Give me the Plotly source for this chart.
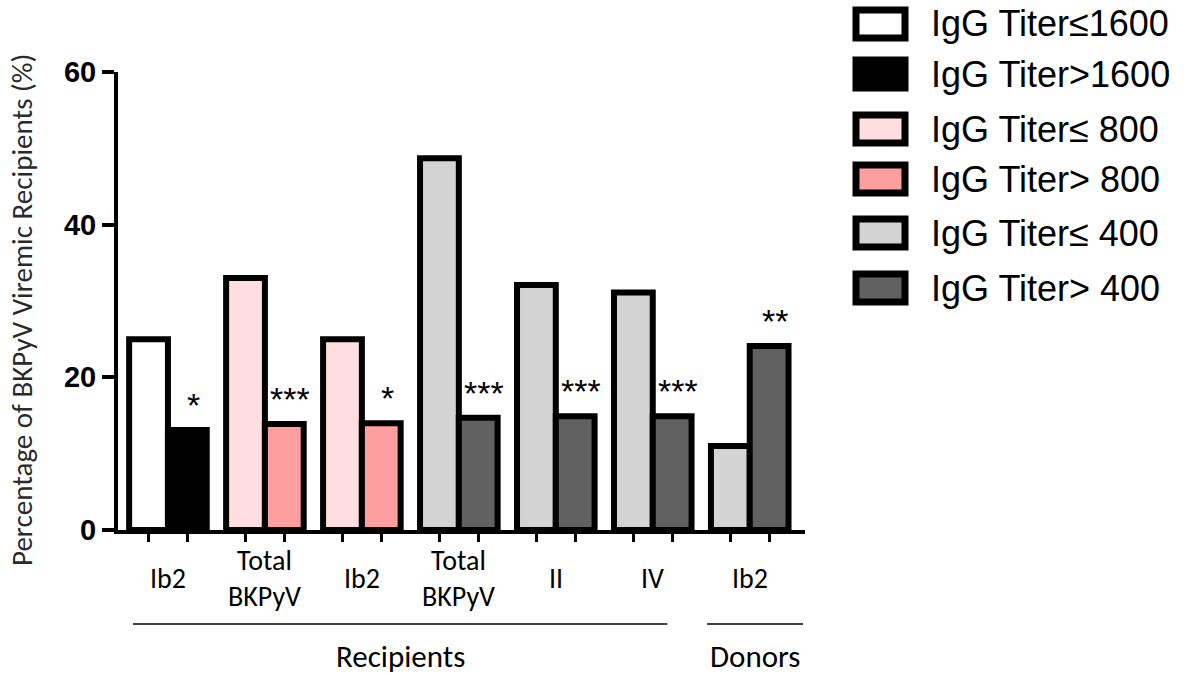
import plotly.graph_objects as go

# ---------------- data ----------------
group_labels = ["Ib2", "Total<br>BKPyV", "Ib2", "Total<br>BKPyV", "II", "IV", "Ib2"]
low_titer_values = [25.0, 33.0, 25.0, 48.7, 32.1, 31.1, 11.0]
high_titer_values = [13.1, 13.9, 14.0, 14.7, 14.9, 14.9, 24.1]
significance = ["*", "***", "*", "***", "***", "***", "**"]
group_threshold = [0, 1, 1, 2, 2, 2, 2]  # 0: 1600, 1: 800, 2: 400
series_names = ["IgG Titer≤1600", "IgG Titer>1600",
                "IgG Titer≤ 800", "IgG Titer> 800",
                "IgG Titer≤ 400", "IgG Titer> 400"]
series_colors = ["#FFFFFF", "#000000", "#FFDEE1", "#FF9E9E", "#D3D3D3", "#616161"]
section_names = ["Recipients", "Donors"]
section_groups = [[0, 1, 2, 3, 4, 5], [6]]
y_ticks = [0, 20, 40, 60]
y_title = "Percentage of BKPyV Viremic Recipients (%)"

# ---------------- layout constants ----------------
W = 0.40
FIG_W, FIG_H = 1196, 675
L, R, T, B = 118, 391, 72, 145
PW, PH = FIG_W - L - R, FIG_H - T - B
BORDER = 6
LABEL_FONT = "Carlito, Liberation Sans Narrow, Open Sans, sans-serif"
ARIAL = "Liberation Sans, Arial, sans-serif"


def px_x(p):
    return (p - L) / PW


def px_y(p):
    return (FIG_H - B - p) / PH


fig = go.Figure()
n = len(group_labels)
for t in range(3):
    idx = [i for i in range(n) if group_threshold[i] == t]
    fig.add_trace(go.Bar(
        x=idx, y=[low_titer_values[i] for i in idx], name=series_names[2 * t],
        offset=-W, width=W, marker=dict(color=series_colors[2 * t],
                                        line=dict(color="black", width=BORDER)),
        showlegend=False, hoverinfo="y"))
    fig.add_trace(go.Bar(
        x=idx, y=[high_titer_values[i] for i in idx], name=series_names[2 * t + 1],
        offset=0, width=W, marker=dict(color=series_colors[2 * t + 1],
                                       line=dict(color="black", width=BORDER)),
        showlegend=False, hoverinfo="y"))

# significance stars
for i in range(n):
    fig.add_annotation(x=i + W / 2 + 0.06, y=high_titer_values[i], text=significance[i],
                       showarrow=False, yanchor="bottom", yshift=4,
                       font=dict(family=ARIAL, size=34, color="black"))

# category labels (vertically centred under each group)
for i, lab in enumerate(group_labels):
    fig.add_annotation(xref="x", yref="paper", x=i, y=px_y(578), text=lab,
                       showarrow=False, yanchor="middle", xanchor="center",
                       font=dict(family=LABEL_FONT, size=28, color="black"))

# section lines and labels
for name, gs in zip(section_names, section_groups):
    if len(gs) > 1:
        x0, x1 = min(gs) - 0.36, max(gs) + 0.15
    else:
        x0, x1 = min(gs) - 0.44, max(gs) + 0.55
    fig.add_shape(type="line", xref="x", yref="paper", x0=x0, x1=x1,
                  y0=px_y(624), y1=px_y(624), line=dict(color="black", width=1.3))
    fig.add_annotation(xref="x", yref="paper", x=(x0 + x1) / 2, y=px_y(656),
                       text=name, showarrow=False, yanchor="middle",
                       font=dict(family=LABEL_FONT, size=31, color="black"))

# y-axis title
fig.add_annotation(xref="paper", yref="paper", x=px_x(22), y=px_y(310),
                   text=y_title, textangle=-90, showarrow=False,
                   xanchor="center", yanchor="middle",
                   font=dict(family=LABEL_FONT, size=29, color="#2a2a2a"))

# manual legend
leg_rows = [24, 74, 129, 179, 233, 288]
for k, name in enumerate(series_names):
    cy = leg_rows[k]
    fig.add_shape(type="rect", xref="paper", yref="paper",
                  x0=px_x(856), x1=px_x(905), y0=px_y(cy - 14), y1=px_y(cy + 14),
                  fillcolor=series_colors[k], line=dict(color="black", width=7))
    fig.add_annotation(xref="paper", yref="paper", x=px_x(929), y=px_y(cy),
                       xanchor="left", yanchor="middle", text=name, showarrow=False,
                       font=dict(family=ARIAL, size=36, color="black"))

bar_centers = sorted([i - W / 2 for i in range(n)] + [i + W / 2 for i in range(n)])

fig.update_layout(
    width=FIG_W, height=FIG_H,
    margin=dict(l=L, r=R, t=T, b=B, autoexpand=False),
    paper_bgcolor="white", plot_bgcolor="white",
    barmode="overlay",
    xaxis=dict(range=[-0.515, 6.57], tickmode="array", tickvals=list(range(n)),
               showticklabels=False, ticks="", showgrid=False, zeroline=False,
               showline=True, linecolor="black", linewidth=4,
               minor=dict(tickmode="array", tickvals=bar_centers, ticks="outside",
                          ticklen=8, tickwidth=3, tickcolor="black", showgrid=False)),
    yaxis=dict(range=[0, 60], tickmode="array", tickvals=y_ticks,
               ticks="outside", ticklen=12, tickwidth=4, tickcolor="black",
               showgrid=False, zeroline=False, showline=True, linecolor="black",
               linewidth=4,
               tickfont=dict(family=ARIAL, size=29, color="black", weight="bold")),
)

fig.write_html("out.html", config={"displayModeBar": False},
               post_script="document.body.style.margin='0';")
